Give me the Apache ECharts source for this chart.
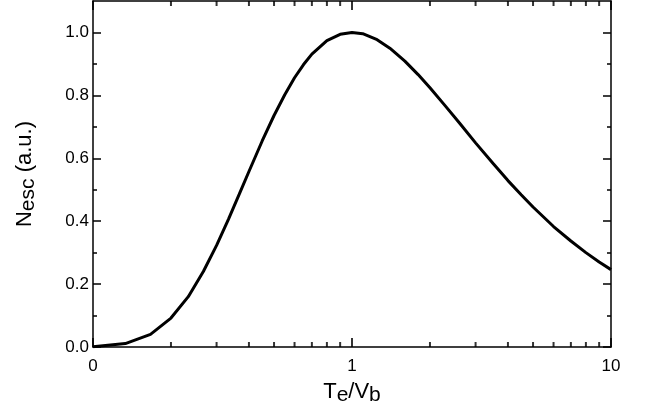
<!DOCTYPE html>
<html><head><meta charset="utf-8">
<script src="https://cdn.jsdelivr.net/npm/echarts@6/dist/echarts.min.js"></script>
<style>html,body{margin:0;padding:0;background:#fff}#c{width:654px;height:411px}</style>
</head><body><div id="c"></div>
<script>
// Data (x: Te/Vb on log scale, y: Nesc in a.u.)
const xVals = [0.1, 0.1333, 0.1667, 0.2, 0.2333, 0.2667, 0.3, 0.3333, 0.3667, 0.4, 0.45, 0.5, 0.55, 0.6, 0.65, 0.7, 0.8, 0.9, 1.0, 1.1, 1.25, 1.4, 1.6, 1.8, 2, 2.3, 2.6, 3, 3.5, 4, 4.5, 5, 6, 7, 8, 9, 10];
const yVals = [0.001, 0.011, 0.040, 0.092, 0.160, 0.240, 0.323, 0.406, 0.485, 0.558, 0.655, 0.736, 0.802, 0.856, 0.898, 0.931, 0.974, 0.994, 1.0, 0.996, 0.977, 0.950, 0.909, 0.866, 0.824, 0.765, 0.712, 0.649, 0.584, 0.529, 0.484, 0.445, 0.383, 0.337, 0.300, 0.270, 0.246];
const yMajorTicks = [0, 0.2, 0.4, 0.6, 0.8, 1.0];
const yMinorTicks = [0.1, 0.3, 0.5, 0.7, 0.9];
const xMajorTicks = [0.1, 1, 10];
const xMinorTicks = [0.2, 0.3, 0.4, 0.5, 0.6, 0.7, 0.8, 0.9, 2, 3, 4, 5, 6, 7, 8, 9];
const yMin = 0, yMax = 1.1;

const FONT = 'Liberation Sans, Arial, Helvetica, sans-serif';
const lineStyle = {color: '#000', width: 1.5};
const chart = echarts.init(document.getElementById('c'), null, {renderer: 'canvas'});

function yAx(pos, ticks, len, labels, extra) {
  return Object.assign({
    type: 'value', position: pos, min: yMin, max: yMax,
    axisLine: {show: true, onZero: false, lineStyle: lineStyle},
    axisTick: {show: true, inside: true, length: len, customValues: ticks, lineStyle: {color: '#000', width: 1.5}},
    axisLabel: {show: labels, customValues: ticks, formatter: v => v.toFixed(1), color: '#000', fontSize: 17, fontFamily: FONT, margin: 4},
    splitLine: {show: false}
  }, extra || {});
}
function xLogAx(pos, labels, extra) {
  return Object.assign({
    type: 'log', logBase: 10, position: pos, min: 0.1, max: 10,
    axisLine: {show: true, onZero: false, lineStyle: lineStyle},
    axisTick: {show: false},
    axisLabel: {show: labels, color: '#000', fontSize: 17, fontFamily: FONT, margin: 11,
      formatter: v => (Math.abs(v - 0.1) < 1e-9 ? '0' : String(Math.round(v)))},
    splitLine: {show: false}
  }, extra || {});
}
const richName = {
  n: {fontSize: 22, fontFamily: FONT, color: '#000'},
  s: {fontSize: 21, fontFamily: FONT, color: '#000', padding: [8, 0, 0, 0]}
};
// x-axis tick marks drawn through the log scale (inside, on bottom and top)
function tickSeries(xs, yv, len, dir) {
  return {
    type: 'scatter', xAxisIndex: 0, yAxisIndex: 0, silent: true, clip: false,
    symbol: 'rect', symbolSize: [2, len], symbolOffset: [0, dir * len / 2],
    itemStyle: {color: '#000'},
    data: xs.map(x => [x, yv])
  };
}

chart.setOption({
  animation: false,
  backgroundColor: '#fff',
  grid: {left: 93, right: 43, top: 1, bottom: 64, containLabel: false},
  xAxis: [
    xLogAx('bottom', true, {
      name: '{n|T}{s|e}{n|/V}{s|b}', nameLocation: 'middle', nameGap: 30,
      nameTextStyle: {rich: richName}
    }),
    xLogAx('top', false)
  ],
  yAxis: [
    yAx('left', yMajorTicks, 8, true, {
      name: '{n|N}{s|esc}{n| (a.u.)}', nameLocation: 'middle', nameGap: 54,
      nameTextStyle: {rich: richName}
    }),
    yAx('left', yMinorTicks, 4, false, {axisLine: {show: false, onZero: false}}),
    yAx('right', yMajorTicks, 8, false),
    yAx('right', yMinorTicks, 4, false, {axisLine: {show: false, onZero: false}})
  ],
  series: [
    {
      type: 'line',
      xAxisIndex: 0, yAxisIndex: 0,
      data: xVals.map((x, i) => [x, yVals[i]]),
      showSymbol: false,
      smooth: false,
      lineStyle: {color: '#000', width: 3},
      clip: true
    },
    tickSeries(xMinorTicks, yMin, 5, -1),
    tickSeries(xMinorTicks, yMax, 5, 1),
    tickSeries(xMajorTicks, yMin, 9, -1),
    tickSeries(xMajorTicks, yMax, 9, 1)
  ]
});
</script></body></html>
